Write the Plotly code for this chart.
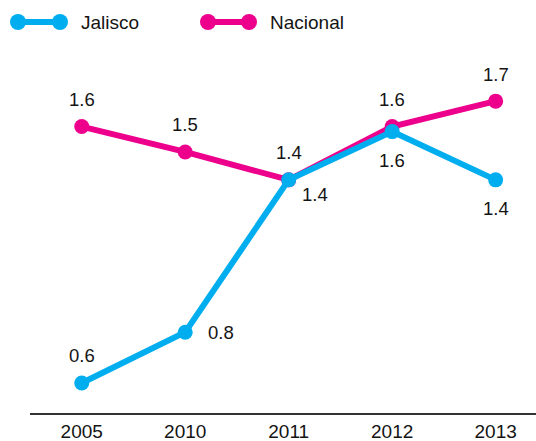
import plotly.graph_objects as go

years = ["2005", "2010", "2011", "2012", "2013"]
jalisco = [0.6, 0.8, 1.4, 1.59, 1.4]
nacional = [1.61, 1.51, 1.4, 1.61, 1.71]

CYAN = "#00AEEF"
MAGENTA = "#EC008C"
FONT = "Liberation Sans, Arial, sans-serif"
TXT = "#141414"

fig = go.Figure()
fig.add_trace(go.Scatter(x=years, y=nacional, mode="lines+markers", name="Nacional",
                         line=dict(color=MAGENTA, width=6), marker=dict(size=15, color=MAGENTA)))
fig.add_trace(go.Scatter(x=years, y=jalisco, mode="lines+markers", name="Jalisco",
                         line=dict(color=CYAN, width=6), marker=dict(size=15, color=CYAN)))

# value labels (x as category index)
nac_shift = [(0, 27)] * 5
jal_shift = [(0, 28), (36, 0), (26, -15), (0, -29), (0, -29)]
for i, (y, (dx, dy)) in enumerate(zip(nacional, nac_shift)):
    fig.add_annotation(x=i, y=y, xref="x", yref="y", text=f"{y:.1f}", showarrow=False,
                       xshift=dx, yshift=dy, font=dict(size=18.5, color=TXT, family=FONT))
for i, (y, (dx, dy)) in enumerate(zip(jalisco, jal_shift)):
    fig.add_annotation(x=i, y=y, xref="x", yref="y", text=f"{y:.1f}", showarrow=False,
                       xshift=dx, yshift=dy, font=dict(size=18.5, color=TXT, family=FONT))

# custom legend (pixel -> paper)
L, R, T, B = 30, 0, 60, 28
W, H = 536 - L - R, 441 - T - B
def px(x): return (x - L) / W
def py(y): return (441 - B - y) / H

for (x0, x1, tx, name, col) in [(18, 60, 79, "Jalisco", CYAN), (208, 249, 268, "Nacional", MAGENTA)]:
    fig.add_shape(type="line", xref="paper", yref="paper", x0=px(x0), x1=px(x1), y0=py(22), y1=py(22),
                  line=dict(color=col, width=6))
    for cx in (x0, x1):
        fig.add_shape(type="circle", xref="paper", yref="paper",
                      x0=px(cx - 8), x1=px(cx + 8), y0=py(22 + 8), y1=py(22 - 8),
                      fillcolor=col, line=dict(color=col, width=0))
    fig.add_annotation(xref="paper", yref="paper", x=px(tx), y=py(22), text=name, showarrow=False,
                       xanchor="left", yanchor="middle", font=dict(size=19, color=TXT, family=FONT))

fig.update_layout(
    width=536, height=441,
    margin=dict(l=L, r=R, t=T, b=B),
    paper_bgcolor="white", plot_bgcolor="white",
    showlegend=False,
    font=dict(family=FONT, size=18, color=TXT),
)
fig.update_xaxes(type="category", range=[-0.5, 4.39], showgrid=False, zeroline=False,
                 showline=True, linecolor="#333333", linewidth=1.5, ticks="", automargin=False,
                 tickfont=dict(size=19, color=TXT, family=FONT))
fig.update_yaxes(range=[0.482, 1.872], visible=False, showgrid=False, zeroline=False)

fig.write_html("out.html", config={"displayModeBar": False},
               post_script="document.body.style.margin='0';document.body.style.overflow='hidden';")
